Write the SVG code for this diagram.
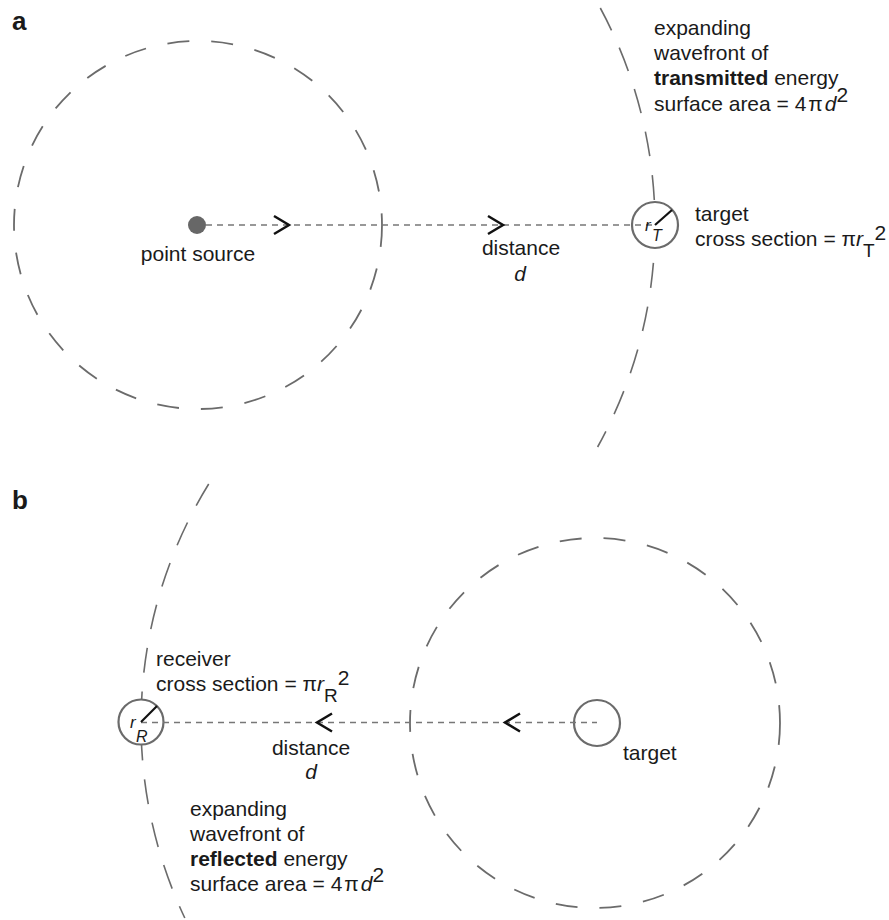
<svg xmlns="http://www.w3.org/2000/svg" width="889" height="920" viewBox="0 0 889 920">
<style>
text{font-family:"Liberation Sans",Arial,sans-serif;font-size:21px;fill:#1a1a1a}
.lbl{font-size:26px;font-weight:bold}
.wave{fill:none;stroke:#6b6b6b;stroke-width:1.8;stroke-dasharray:22 22}
.arc{fill:none;stroke:#6b6b6b;stroke-width:1.6;stroke-dasharray:25 19}
.obj{fill:#fff;stroke:#6b6b6b;stroke-width:2.2}
.ray{fill:none;stroke:#777;stroke-width:1.6;stroke-dasharray:6 5}
.chev{fill:none;stroke:#111;stroke-width:2.5}
.rad{stroke:#111;stroke-width:2.2}
.it{font-style:italic}
.small{font-size:17px;font-style:italic}
.sub{font-size:16px;font-style:italic}
</style>
<text class="lbl" x="12" y="30">a</text>
<text class="lbl" x="12" y="509">b</text>
<g id="wavefronts">
<circle class="wave" cx="198" cy="225" r="184"/>
<path class="arc" d="M 600.3 8 A 458 458 0 0 1 597.6 447"/>
<circle class="wave" cx="595" cy="723" r="185"/>
<path class="arc" d="M 208.7 484 A 456 456 0 0 0 184.8 918"/>
</g>
<g id="source">
<circle cx="197" cy="225" r="9" fill="#676767"/>
<text x="198" y="261" text-anchor="middle">point source</text>
</g>
<g id="target-a">
<circle class="obj" cx="655" cy="225" r="23"/>
</g>
<g id="target-b">
<circle class="obj" cx="597" cy="723" r="23"/>
<text x="623" y="760">target</text>
</g>
<g id="receiver">
<circle class="obj" cx="141" cy="722" r="22.5"/>
</g>
<g id="connectors">
<line class="ray" x1="206" y1="225" x2="655" y2="225"/>
<polyline class="chev" points="274,216 289,225 274,234"/>
<polyline class="chev" points="488,216 503,225 488,234"/>
<line class="ray" x1="141" y1="722.5" x2="597" y2="722.5"/>
<polyline class="chev" points="520,713.5 505,722.5 520,731.5"/>
<polyline class="chev" points="332,713.5 317,722.5 332,731.5"/>
<line class="rad" x1="655" y1="225" x2="672" y2="210"/>
<line class="rad" x1="141" y1="722" x2="157" y2="706"/>
</g>
<g id="labels">
<text class="small" x="645" y="231">r</text>
<text class="sub" x="652" y="241">T</text>
<text class="small" x="130" y="728">r</text>
<text class="sub" x="136" y="742">R</text>
<text x="521" y="255" text-anchor="middle">distance</text>
<text class="it" x="520" y="281" text-anchor="middle">d</text>
<text x="311" y="755" text-anchor="middle">distance</text>
<text class="it" x="311" y="779" text-anchor="middle">d</text>
<text x="695" y="221">target</text>
<text x="695" y="246">cross section = π<tspan class="it">r</tspan><tspan dy="11" font-size="19">T</tspan><tspan dy="-17">2</tspan></text>
<text x="156" y="666">receiver</text>
<text x="156" y="691">cross section = π<tspan class="it">r</tspan><tspan dy="11" font-size="19">R</tspan><tspan dy="-17">2</tspan></text>
<text x="654" y="35">expanding</text>
<text x="654" y="60">wavefront of</text>
<text x="654" y="85"><tspan font-weight="bold">transmitted</tspan> energy</text>
<text x="654" y="111">surface area = 4<tspan dx="2">π</tspan><tspan class="it" dx="2">d</tspan><tspan dy="-9">2</tspan></text>
<text x="190" y="816">expanding</text>
<text x="190" y="841">wavefront of</text>
<text x="190" y="866"><tspan font-weight="bold">reflected</tspan> energy</text>
<text x="190" y="891">surface area = 4<tspan dx="2">π</tspan><tspan class="it" dx="2">d</tspan><tspan dy="-9">2</tspan></text>
</g>
</svg>
